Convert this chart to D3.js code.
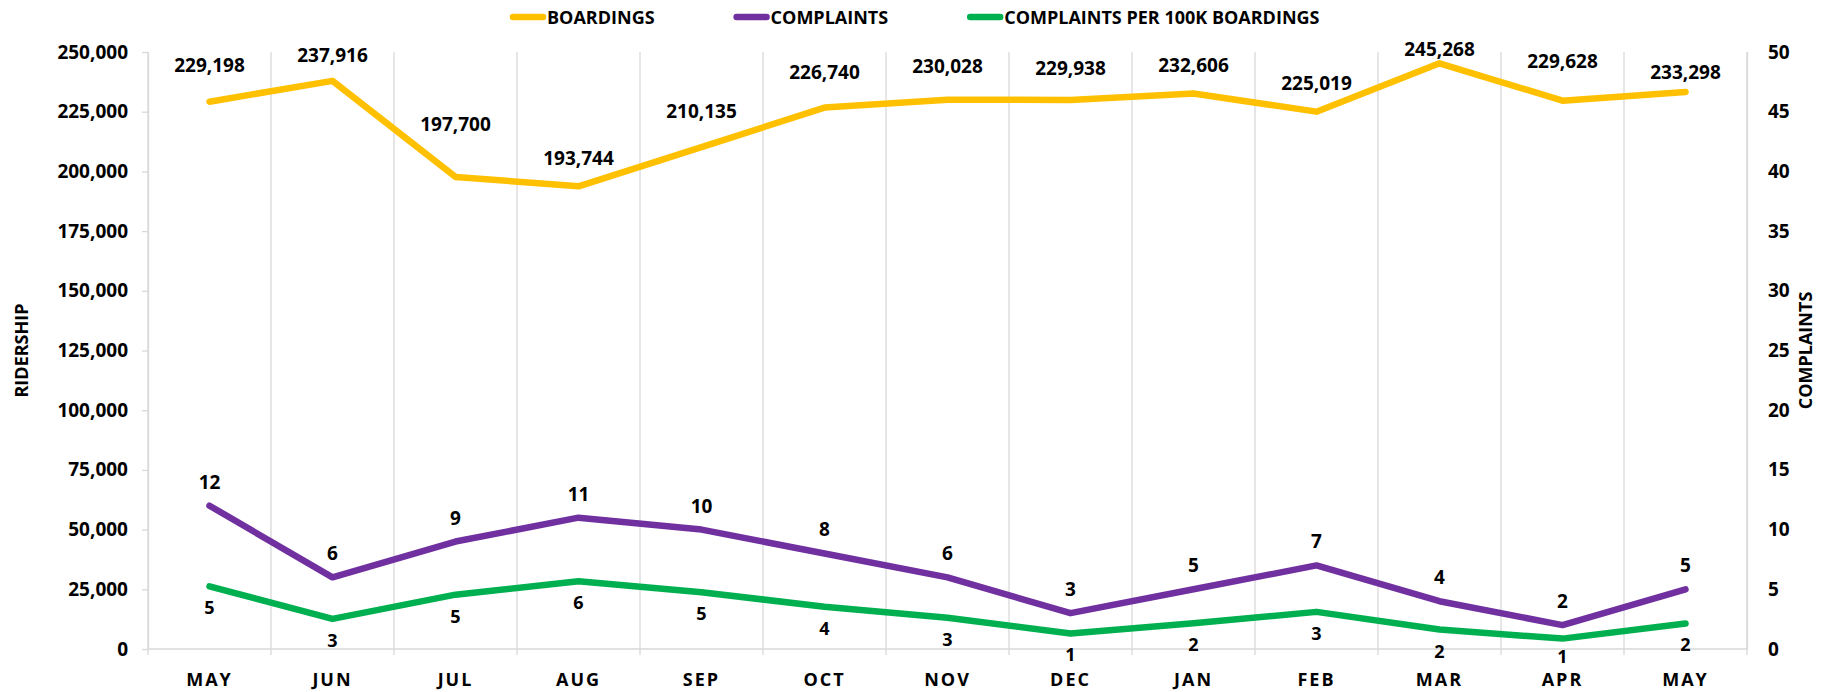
<!DOCTYPE html>
<html>
<head>
<meta charset="utf-8">
<script src="https://cdn.jsdelivr.net/npm/d3@7"></script>
<style>
  body { margin: 0; background: #fff; }
  svg text { font-family: "Open Sans", sans-serif; font-weight: 700; fill: #000; }
</style>
</head>
<body>
<div class="linechart"></div>
<script>
// chart data
let months = ["MAY", "JUN", "JUL", "AUG", "SEP", "OCT", "NOV", "DEC", "JAN", "FEB", "MAR", "APR", "MAY"];
let boardings = [229198, 237916, 197700, 193744, 210135, 226740, 230028, 229938, 232606, 225019, 245268, 229628, 233298];
let complaints = [12, 6, 9, 11, 10, 8, 6, 3, 5, 7, 4, 2, 5];
let per100k = [5.24, 2.52, 4.55, 5.68, 4.76, 3.53, 2.61, 1.30, 2.15, 3.11, 1.63, 0.87, 2.14];
let leftTicks = [0, 25000, 50000, 75000, 100000, 125000, 150000, 175000, 200000, 225000, 250000];
let rightTicks = [0, 5, 10, 15, 20, 25, 30, 35, 40, 45, 50];

// label placement (vertical shift from the point, px)
let boardLabelDy = [-37, -26, -53, -28, -36, -36, -34, -32, -29, -29, -14, -40, -20];

let gold = "#FFC000", purple = "#7030A0", green = "#00B050", grid = "#D9D9D9";

let W = 1830, H = 692;
let plot = {left: 148, right: 1747, top: 52, bottom: 649};

let svg = d3.select(".linechart").append("svg")
    .attr("width", W)
    .attr("height", H);

let x = d3.scaleBand()
    .domain(d3.range(months.length))
    .range([plot.left, plot.right]);

let yL = d3.scaleLinear().domain([0, 250000]).range([plot.bottom, plot.top]);
let yR = d3.scaleLinear().domain([0, 50]).range([plot.bottom, plot.top]);

let cx = i => x(i) + x.bandwidth() / 2;

// vertical gridlines at category boundaries
let bounds = d3.range(months.length + 1).map(i => plot.left + i * x.step());
svg.append("g").selectAll("line")
    .data(bounds)
    .join("line")
    .attr("x1", d => d).attr("x2", d => d)
    .attr("y1", plot.top).attr("y2", plot.bottom + 6)
    .attr("stroke", grid)
    .attr("stroke-width", 1.3);

// baseline
svg.append("line")
    .attr("x1", plot.left).attr("x2", plot.right)
    .attr("y1", plot.bottom).attr("y2", plot.bottom)
    .attr("stroke", grid).attr("stroke-width", 1.3);

// left axis
let gl = svg.append("g")
    .attr("transform", `translate(${plot.left},0)`)
    .call(d3.axisLeft(yL).tickValues(leftTicks).tickSize(6).tickSizeOuter(0).tickPadding(14).tickFormat(d3.format(",")));
gl.select(".domain").attr("stroke", grid).attr("stroke-width", 1.3);
gl.selectAll(".tick line").attr("stroke", grid).attr("stroke-width", 1.3);
gl.selectAll("text").style("font-size", "19px");

// right axis
let gr = svg.append("g")
    .attr("transform", `translate(${plot.right},0)`)
    .call(d3.axisRight(yR).tickValues(rightTicks).tickSize(0).tickSizeOuter(0).tickPadding(21));
gr.select(".domain").attr("stroke", grid).attr("stroke-width", 1.3);
gr.selectAll("text").style("font-size", "19px");

// bottom axis (month names)
let gb = svg.append("g")
    .attr("transform", `translate(0,${plot.bottom})`)
    .call(d3.axisBottom(x).tickSize(0).tickPadding(24).tickFormat(i => months[i]));
gb.select(".domain").remove();
gb.selectAll("text").style("font-size", "18px").style("letter-spacing", "2px");

// axis titles
svg.append("text")
    .attr("transform", `translate(21,${(plot.top + plot.bottom) / 2}) rotate(-90)`)
    .attr("text-anchor", "middle")
    .attr("dominant-baseline", "central")
    .style("font-size", "18px")
    .text("RIDERSHIP");

svg.append("text")
    .attr("transform", `translate(1805,${(plot.top + plot.bottom) / 2}) rotate(-90)`)
    .attr("text-anchor", "middle")
    .attr("dominant-baseline", "central")
    .style("font-size", "18px")
    .text("COMPLAINTS");

// lines
function drawLine(values, yScale, color) {
    svg.append("path")
        .datum(values)
        .attr("fill", "none")
        .attr("stroke", color)
        .attr("stroke-width", 6.5)
        .attr("stroke-linecap", "round")
        .attr("stroke-linejoin", "round")
        .attr("d", d3.line()
            .x((d, i) => cx(i))
            .y(d => yScale(d)));
}
drawLine(per100k, yR, green);
drawLine(complaints, yR, purple);
drawLine(boardings, yL, gold);

// data labels
function drawLabels(values, yScale, fmt, dy, size, maxY) {
    svg.append("g").selectAll("text")
        .data(values)
        .join("text")
        .attr("x", (d, i) => cx(i))
        .attr("y", (d, i) => Math.min(maxY || H, yScale(d) + (typeof dy === "number" ? dy : dy[i])))
        .attr("text-anchor", "middle")
        .attr("dominant-baseline", "central")
        .style("font-size", size)
        .text(fmt);
}
drawLabels(boardings, yL, d3.format(","), boardLabelDy, "19px");
drawLabels(complaints, yR, d3.format("d"), -24, "19px");
// keep the lowest labels clear of the month names
drawLabels(per100k, yR, d3.format(".0f"), 21, "18px", 656);

// legend
let legendItems = [
    {name: "BOARDINGS", color: gold},
    {name: "COMPLAINTS", color: purple},
    {name: "COMPLAINTS PER 100K BOARDINGS", color: green}
];
let lx = 510, ly = 17;
legendItems.forEach(function(item) {
    svg.append("line")
        .attr("x1", lx + 3).attr("x2", lx + 33)
        .attr("y1", ly).attr("y2", ly)
        .attr("stroke", item.color)
        .attr("stroke-width", 6.5)
        .attr("stroke-linecap", "round");
    let t = svg.append("text")
        .attr("x", lx + 37)
        .attr("y", ly)
        .attr("dominant-baseline", "central")
        .style("font-size", "18px")
        .text(item.name);
    lx += 37 + t.node().getComputedTextLength() + 79;
});
</script>
</body>
</html>
